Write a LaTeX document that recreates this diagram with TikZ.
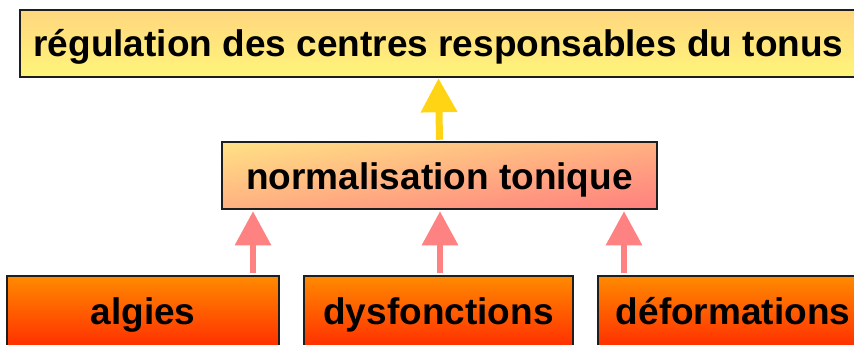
\documentclass[tikz,border=0pt]{standalone}
\usepackage{fontspec}
\setmainfont{Liberation Sans}
\usetikzlibrary{arrows.meta,calc}
\definecolor{boxline}{HTML}{1E1E1E}
\definecolor{topA}{HTML}{FFD67E}
\definecolor{topB}{HTML}{FFF57A}
\definecolor{midA}{HTML}{FFE285}
\definecolor{midB}{HTML}{FF7F7E}
\definecolor{botA}{HTML}{FF8A00}
\definecolor{botB}{HTML}{FF3000}
\definecolor{pinkarr}{HTML}{FF8282}
\definecolor{yelarr}{HTML}{FFD414}
\tikzset{
  box/.style={draw=boxline, line width=2.5pt, inner sep=0pt,
    font=\fontsize{37}{40}\selectfont\bfseries, text height=33pt, text depth=6pt},
  topbox/.style={box, top color=topA, bottom color=topB},
  midbox/.style={box, path picture={
    \shade[top color=midA, bottom color=midB,
      transform canvas={rotate around={8.755:(path picture bounding box.center)}}]
      ([xshift=-226pt,yshift=66.2pt]path picture bounding box.center) rectangle
      ([xshift=226pt,yshift=-66.2pt]path picture bounding box.center);}},
  botbox/.style={box, top color=botA, bottom color=botB},
  uparrow/.style={line width=7pt, -{Triangle[width=35pt,length=34pt]}},
}
\begin{document}
\begin{tikzpicture}[x=1pt,y=-1pt]
\useasboundingbox (0,0) rectangle (854,345);
\clip (0,0) rectangle (854,345);
\node[topbox, minimum width=837pt, minimum height=67pt] (reg) at (438.5,43.5) {régulation des centres responsables du tonus};
\node[midbox, minimum width=435pt, minimum height=67pt] (norm) at (439.5,175.5) {normalisation tonique};
\node[botbox, minimum width=272pt, minimum height=70pt] (alg) at (143,311) {algies};
\node[botbox, minimum width=269pt, minimum height=70pt] (dys) at (438.5,311) {dysfonctions};
\node[botbox, minimum width=270pt, minimum height=70pt] (def) at (733,311) {déformations};
\draw[uparrow, yelarr, shorten <=1pt] (norm.north) -- (reg.south);
\draw[uparrow, pinkarr, line width=6pt, shorten <=2pt, shorten >=1pt] ([xshift=110pt]alg.north) -- ([xshift=110pt]alg.north |- norm.south);
\draw[uparrow, pinkarr, line width=6pt, shorten <=2pt, shorten >=1pt] ([xshift=1.5pt]dys.north) -- ([xshift=1.5pt]dys.north |- norm.south);
\draw[uparrow, pinkarr, line width=6pt, shorten <=2pt, shorten >=1pt] ([xshift=-109pt]def.north) -- ([xshift=-109pt]def.north |- norm.south);
\end{tikzpicture}
\end{document}
